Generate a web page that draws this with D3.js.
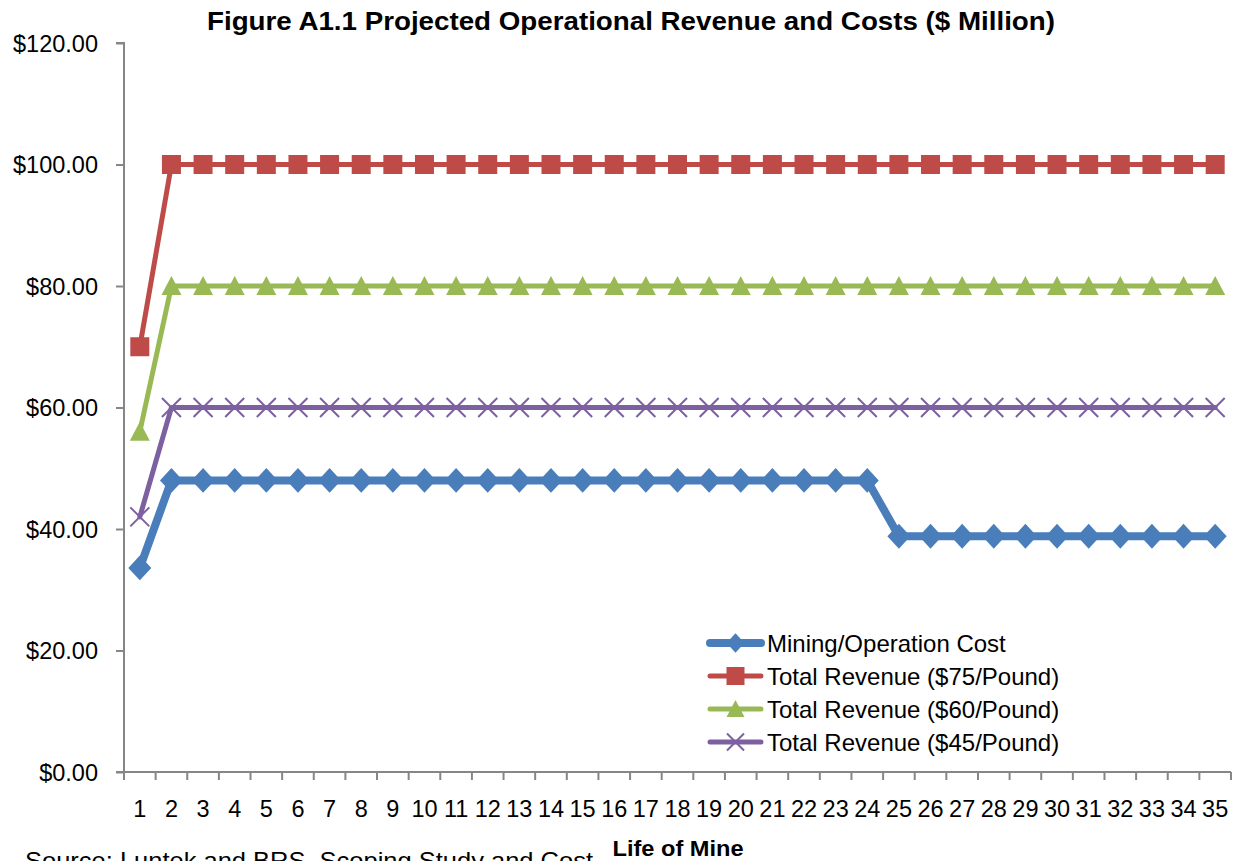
<!DOCTYPE html>
<html><head><meta charset="utf-8">
<script src="https://cdn.jsdelivr.net/npm/d3@7"></script>
<style>
body{margin:0;background:#fff;}
text{font-family:"Liberation Sans",Arial,sans-serif;fill:#000;}
</style></head>
<body><svg id="c" width="1234" height="861"></svg>
<script>
const years = d3.range(1, 36).map(String);
const miningCost = [33.6,48,48,48,48,48,48,48,48,48,48,48,48,48,48,48,48,48,48,48,48,48,48,48,38.8,38.8,38.8,38.8,38.8,38.8,38.8,38.8,38.8,38.8,38.8];
const rev75 = [70].concat(Array(34).fill(100));
const rev60 = [56].concat(Array(34).fill(80));
const rev45 = [42].concat(Array(34).fill(60));
const yTicks = [0,20,40,60,80,100,120];
const seriesNames = ["Mining/Operation Cost","Total Revenue ($75/Pound)","Total Revenue ($60/Pound)","Total Revenue ($45/Pound)"];

const series = [
  {name:seriesNames[0], values:miningCost, color:"#4A7EBB", width:8, marker:"diamond"},
  {name:seriesNames[1], values:rev75, color:"#BE4B48", width:5, marker:"square"},
  {name:seriesNames[2], values:rev60, color:"#98B954", width:5, marker:"triangle"},
  {name:seriesNames[3], values:rev45, color:"#7D60A0", width:5, marker:"x"}
];

const svg = d3.select("#c");
const m = {left:124, right:1231, top:43, bottom:772};
const x = d3.scaleBand().domain(years).range([m.left, m.right]);
const y = d3.scaleLinear().domain([0,120]).range([m.bottom, m.top]);

// Title
svg.append("text").attr("x",631).attr("y",30).attr("text-anchor","middle")
  .style("font-weight","bold").style("font-size","25px").attr("textLength",848).attr("lengthAdjust","spacingAndGlyphs")
  .text("Figure A1.1 Projected Operational Revenue and Costs ($ Million)");

// Y axis
const yAxis = d3.axisLeft(y).tickValues(yTicks).tickSize(8).tickPadding(18).tickFormat(d=>"$"+d3.format(".2f")(d));
const gy = svg.append("g").attr("transform",`translate(${m.left},0)`).call(yAxis);
gy.select(".domain").attr("stroke","#868686").attr("stroke-width",2).attr("d",`M-8,${m.top}H0V${m.bottom}`);
gy.selectAll(".tick line").attr("stroke","#868686").attr("stroke-width",2);
gy.selectAll(".tick text").style("font-size","23.5px").style("font-family","Liberation Sans, Arial").attr("fill","#000").attr("dy","0.36em");

// X axis
const gx = svg.append("g").attr("transform",`translate(0,${m.bottom})`);
gx.append("line").attr("x1",m.left-8).attr("x2",m.right).attr("stroke","#868686").attr("stroke-width",2);
const bounds = years.map(d=>x(d)+x.bandwidth()).concat([m.left]);
gx.selectAll("line.t").data(bounds).join("line").attr("class","t")
  .attr("x1",d=>d).attr("x2",d=>d).attr("y1",0).attr("y2",8).attr("stroke","#868686").attr("stroke-width",2);
gx.selectAll("text.l").data(years).join("text").attr("class","l")
  .attr("x",d=>x(d)+x.bandwidth()/2).attr("y",45).attr("text-anchor","middle")
  .style("font-size","23.5px").text(d=>d);

svg.append("text").attr("x",678).attr("y",856).attr("text-anchor","middle")
  .style("font-weight","bold").style("font-size","22px").attr("textLength",131).attr("lengthAdjust","spacingAndGlyphs").text("Life of Mine");
svg.append("text").attr("x",25).attr("y",869).style("font-size","24px").attr("textLength",568).attr("lengthAdjust","spacingAndGlyphs")
  .text("Source: Luntek and BRS, Scoping Study and Cost");

// markers
function drawMarker(g, type, color, cx, cy, s){
  if(type==="diamond"){
    g.append("path").attr("d",`M${cx},${cy-s*1.08}L${cx+s},${cy}L${cx},${cy+s*1.08}L${cx-s},${cy}Z`).attr("fill",color);
  } else if(type==="square"){
    g.append("rect").attr("x",cx-s).attr("y",cy-s).attr("width",2*s).attr("height",2*s).attr("fill",color);
  } else if(type==="triangle"){
    g.append("path").attr("d",`M${cx},${cy-s}L${cx+s},${cy+s*0.9}L${cx-s},${cy+s*0.9}Z`).attr("fill",color);
  } else {
    g.append("path").attr("d",`M${cx-s},${cy-s}L${cx+s},${cy+s}M${cx-s},${cy+s}L${cx+s},${cy-s}`).attr("stroke",color).attr("stroke-width",2).attr("fill","none");
  }
}
const msize = {diamond:11.5, square:9.5, triangle:10, x:9.5};
const line = d3.line().x((d,i)=>x(years[i])+x.bandwidth()/2).y(d=>y(d));
series.forEach(s=>{
  const g = svg.append("g");
  g.append("path").attr("d",line(s.values)).attr("fill","none").attr("stroke",s.color)
    .attr("stroke-width",s.width).attr("stroke-linejoin","round").attr("stroke-linecap","round");
  s.values.forEach((v,i)=>drawMarker(g, s.marker, s.color, x(years[i])+x.bandwidth()/2, y(v), msize[s.marker]));
});

// Legend
const lg = svg.append("g");
series.forEach((s,i)=>{
  const ly = 643 + i*33;
  lg.append("line").attr("x1",710).attr("x2",761).attr("y1",ly).attr("y2",ly).attr("stroke",s.color).attr("stroke-width",s.width).attr("stroke-linecap","round");
  drawMarker(lg, s.marker, s.color, 735.5, ly, s.marker==="diamond"?9:s.marker==="x"?8.5:9);
  lg.append("text").attr("x",767).attr("y",ly+9).style("font-size","24px").text(s.name);
});
</script></body></html>
